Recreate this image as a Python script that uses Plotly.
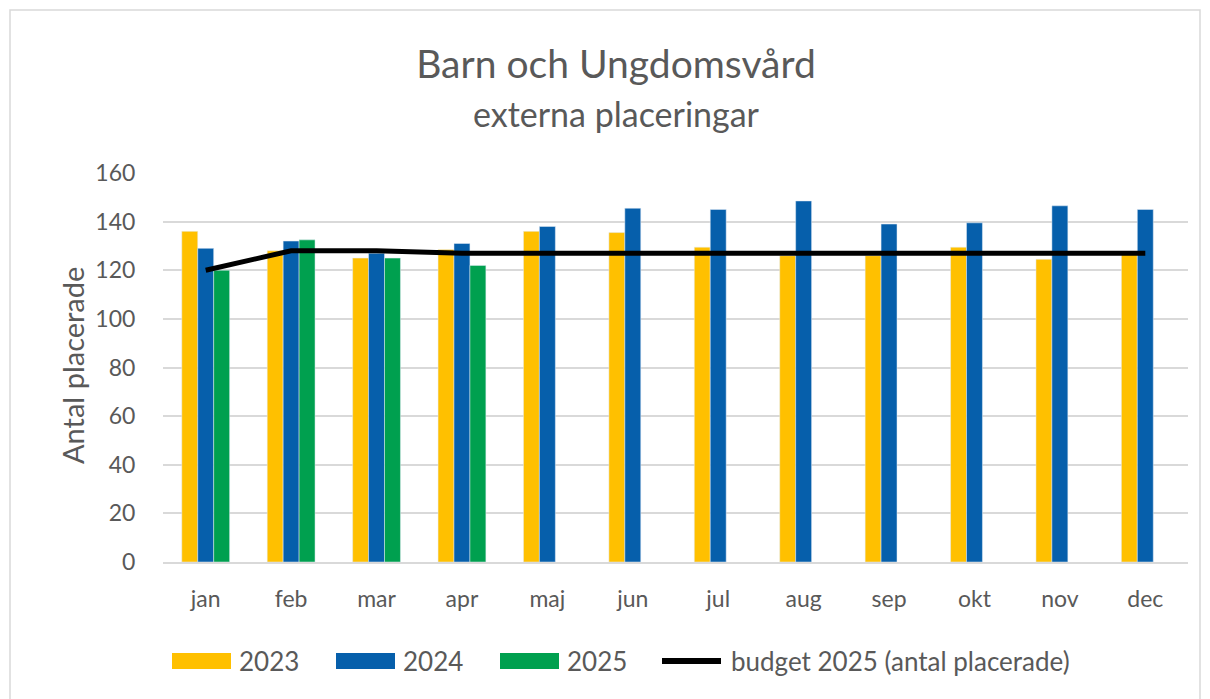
import plotly.graph_objects as go

months = ["jan", "feb", "mar", "apr", "maj", "jun", "jul", "aug", "sep", "okt", "nov", "dec"]
y2023 = [136, 128, 125, 128.5, 136, 135.5, 129.5, 126, 126, 129.5, 124.5, 126.5]
y2024 = [129, 132, 127, 131, 138, 145.5, 145, 148.5, 139, 139.5, 146.5, 145]
y2025 = [120, 132.5, 125, 122, None, None, None, None, None, None, None, None]
budget = [120, 128, 128, 127, 127, 127, 127, 127, 127, 127, 127, 127]

FONT = "Lato, Open Sans, sans-serif"
GREY = "#595959"
COLORS = {"2023": "#FFC000", "2024": "#065FAB", "2025": "#00A04F"}

# page has an 8px body margin, so the figure is drawn a bit smaller/offset
OFF = 8
FIG_W, FIG_H = 1210 - OFF, 699 - OFF

# plot area in screen pixels (used to place the hand-drawn legend / frame)
L, R, T, B = 163, 1188, 173, 562
W, H = R - L, B - T


def px_x(p):
    return (p - L) / W


def px_y(p):
    return (B - p) / H


fig = go.Figure()
fig.add_trace(go.Bar(x=months, y=y2023, name="2023", marker=dict(color=COLORS["2023"])))
fig.add_trace(go.Bar(x=months, y=y2024, name="2024", marker=dict(color=COLORS["2024"])))
fig.add_trace(go.Bar(x=months, y=y2025, name="2025", marker=dict(color=COLORS["2025"])))
fig.add_trace(go.Scatter(x=months, y=budget, name="budget 2025 (antal placerade)",
                         mode="lines", line=dict(color="black", width=5)))

# thin frame like the Excel chart area
fig.add_shape(type="rect", xref="paper", yref="paper",
              x0=px_x(10), x1=px_x(1200), y0=px_y(710), y1=px_y(10),
              line=dict(color="#d9d9d9", width=1.5), layer="below")

# legend drawn by hand (Excel style wide swatches)
legend_items = [("2023", 172), ("2024", 336), ("2025", 500)]
for name, x0 in legend_items:
    fig.add_shape(type="rect", xref="paper", yref="paper",
                  x0=px_x(x0), x1=px_x(x0 + 59), y0=px_y(669), y1=px_y(653),
                  fillcolor=COLORS[name], line=dict(width=0))
    fig.add_annotation(text=name, xref="paper", yref="paper", x=px_x(x0 + 65), y=px_y(661),
                       xanchor="left", yanchor="middle", showarrow=False,
                       font=dict(size=26, color=GREY, family=FONT))
fig.add_shape(type="line", xref="paper", yref="paper",
              x0=px_x(662), x1=px_x(721), y0=px_y(661), y1=px_y(661),
              line=dict(color="black", width=6))
fig.add_annotation(text="budget 2025 (antal placerade)", xref="paper", yref="paper",
                   x=px_x(729), y=px_y(661), xanchor="left", yanchor="middle", showarrow=False,
                   font=dict(size=26, color=GREY, family=FONT))

# subtitle + y-axis title
fig.add_annotation(text="externa placeringar", xref="paper", yref="paper",
                   x=px_x(616), y=px_y(113), xanchor="center", yanchor="middle", showarrow=False,
                   font=dict(size=34, color=GREY, family=FONT))
fig.add_annotation(text="Antal placerade", xref="paper", yref="paper",
                   x=px_x(72), y=px_y(366), xanchor="center", yanchor="middle", showarrow=False,
                   textangle=-90, font=dict(size=29, color=GREY, family=FONT))

fig.update_layout(
    width=FIG_W, height=FIG_H,
    margin=dict(l=L - OFF, r=FIG_W - (R - OFF), t=T - OFF, b=FIG_H - (B - OFF)),
    paper_bgcolor="white", plot_bgcolor="white",
    barmode="group", bargap=0.44, bargroupgap=0,
    font=dict(family=FONT, color=GREY, size=23),
    showlegend=False,
    title=dict(
        text="Barn och Ungdomsvård",
        x=(616 - OFF) / FIG_W, xanchor="center",
        y=1 - (64 - OFF) / FIG_H, yanchor="middle",
        font=dict(size=39, color=GREY, family=FONT),
    ),
    xaxis=dict(showgrid=False, showline=True, linecolor="#d9d9d9", linewidth=1.5,
               ticks="outside", ticklen=16, tickcolor="rgba(0,0,0,0)", automargin=False,
               tickfont=dict(size=23, color=GREY)),
    yaxis=dict(range=[0, 160], dtick=20, showgrid=True, gridcolor="#d9d9d9", gridwidth=1.5,
               zeroline=False, ticks="outside", ticklen=22, tickcolor="rgba(0,0,0,0)",
               automargin=False, tickfont=dict(size=23, color=GREY)),
)

fig.write_html("out.html")
